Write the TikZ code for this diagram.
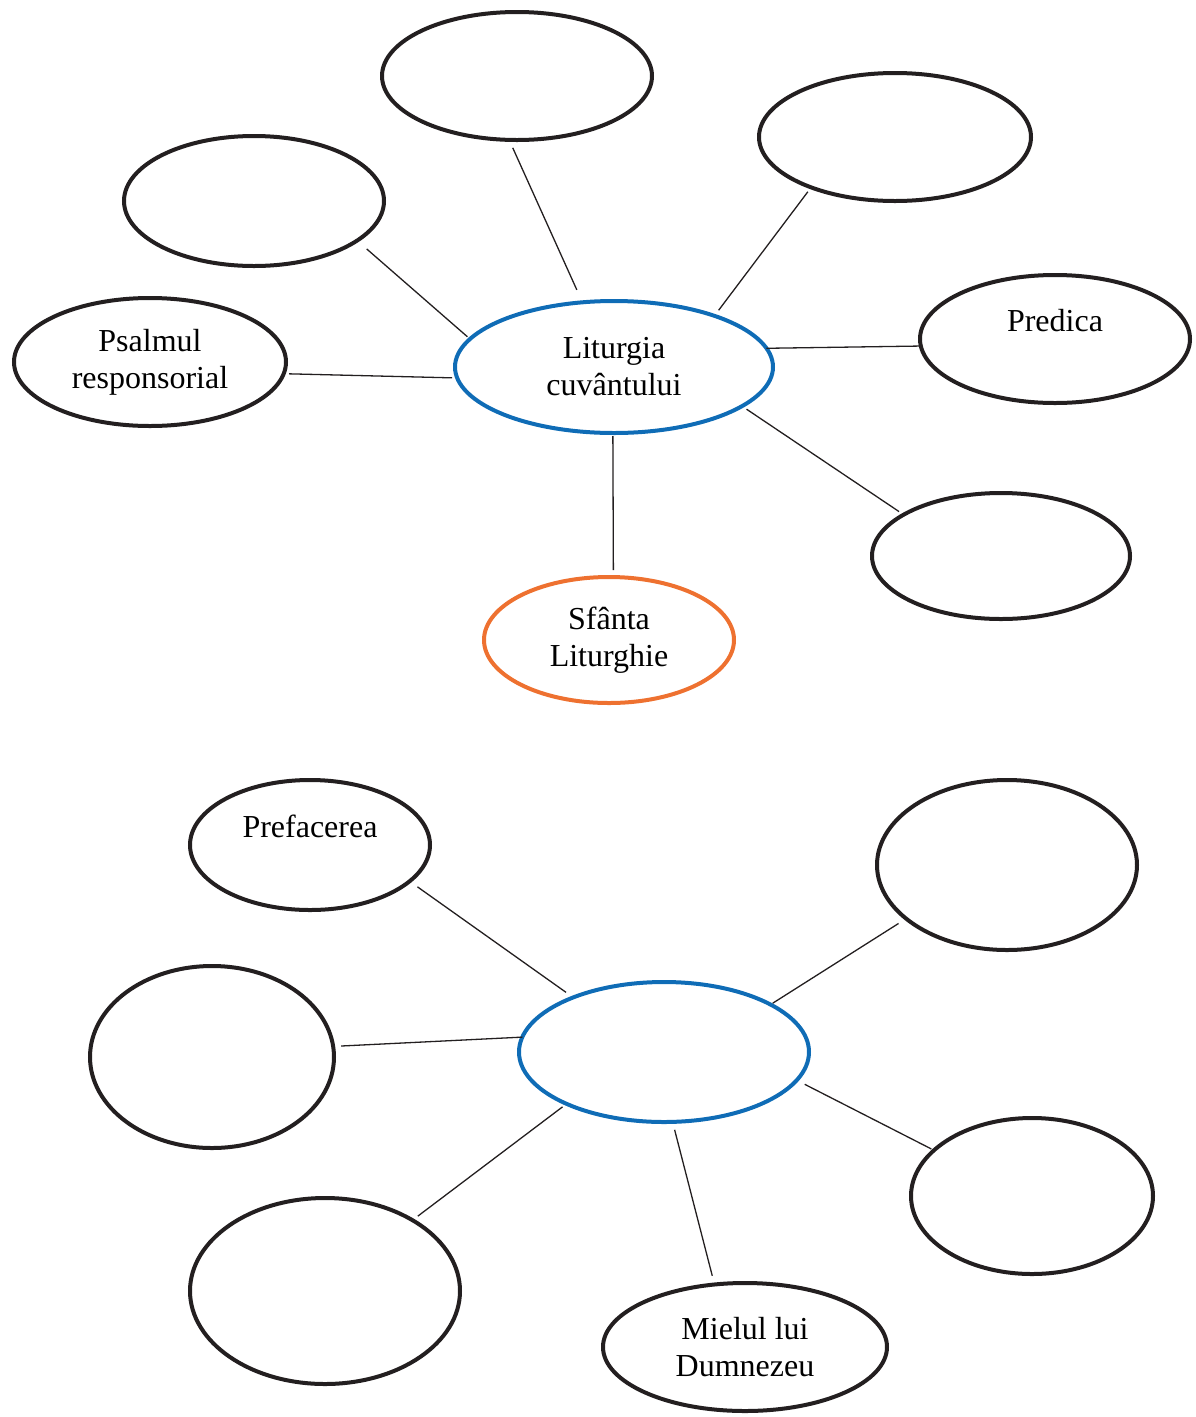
\documentclass[tikz,border=0pt]{standalone}
\usepackage{fontspec}
\setmainfont{Liberation Serif}
\usetikzlibrary{shapes.geometric}
\definecolor{olc}{HTML}{231F20}
\definecolor{blueo}{HTML}{0F6CB6}
\definecolor{orangeo}{HTML}{EE7130}
\tikzset{
  bub/.style={draw=olc, line width=4pt, ellipse, inner sep=0pt, outer sep=0pt,
    font=\fontsize{32}{37}\selectfont, align=center},
  conn/.style={line width=1.3pt, draw=olc},
}
\begin{document}
\begin{tikzpicture}[x=1pt,y=-1pt]
\useasboundingbox (0,0) rectangle (1195,1417);
% top diagram
\node[bub, minimum width=270pt, minimum height=128pt] (t1) at (517,76) {};
\node[bub, minimum width=272pt, minimum height=128pt] (t2) at (895,137) {};
\node[bub, minimum width=260pt, minimum height=130pt] (t3) at (254,201) {};
\node[bub, minimum width=272pt, minimum height=128pt] (ps) at (150,362) {Psalmul\\responsorial};
\node[bub, draw=blueo, minimum width=318pt, minimum height=132pt] (c1) at (614,367) {Liturgia\\cuvântului};
\node[bub, minimum width=270pt, minimum height=128pt] (pr) at (1055,339) {Predica\\\mbox{}};
\node[bub, minimum width=258pt, minimum height=126pt] (t7) at (1001,556) {};
\node[bub, draw=orangeo, minimum width=250pt, minimum height=126pt] (sl) at (609,640) {Sfânta\\Liturghie};
\draw[conn, shorten <=8.7pt, shorten >=13.7pt] (t1.263.3) -- (c1.116.7);
\draw[conn, shorten <=5.5pt, shorten >=7pt] (t2.211.5) -- (c1.27.3);
\draw[conn, shorten <=12.7pt, shorten >=3.5pt] (t3.-21.1) -- (c1.169.6);
\draw[conn, shorten <=5.4pt, shorten >=5.2pt] (ps.-5.1) -- (c1.184);
\draw[conn] (pr.183.4) -- (c1.7.5);
\draw[conn, shorten <=5.5pt, shorten >=5.5pt] (t7.157.4) -- (c1.-17.5);
\draw[conn, shorten <=7pt, shorten >=3pt] (sl.86.4) -- (c1.269.1);
% bottom diagram
\node[bub, minimum width=240pt, minimum height=130pt] (pf) at (310,845) {Prefacerea\\\mbox{}};
\node[bub, minimum width=260pt, minimum height=170pt] (b2) at (1007,865) {};
\node[bub, minimum width=244pt, minimum height=182pt] (b3) at (212,1057) {};
\node[bub, draw=blueo, minimum width=290pt, minimum height=140pt] (c2) at (664,1052) {};
\node[bub, minimum width=242pt, minimum height=156pt] (b5) at (1032,1196) {};
\node[bub, minimum width=270pt, minimum height=186pt] (b6) at (325,1291) {};
\node[bub, minimum width=284pt, minimum height=128pt] (mi) at (745,1347) {Mielul lui\\Dumnezeu};
\draw[conn, shorten <=9.6pt, shorten >=8.8pt] (pf.-20.1) -- (c2.149.9);
\draw[conn, shorten <=9pt, shorten >=2.5pt] (b2.208.4) -- (c2.24);
\draw[conn, shorten <=8pt] (b3.5) -- (c2.174.4);
\draw[conn, shorten <=3pt, shorten >=9pt] (b5.155.8) -- (c2.-12.9);
\draw[conn, shorten <=6.7pt, shorten >=5pt] (b6.39.3) -- (c2.208.2);
\draw[conn, shorten <=9pt, shorten >=8.2pt] (mi.116.2) -- (c2.-83.5);
\end{tikzpicture}
\end{document}
